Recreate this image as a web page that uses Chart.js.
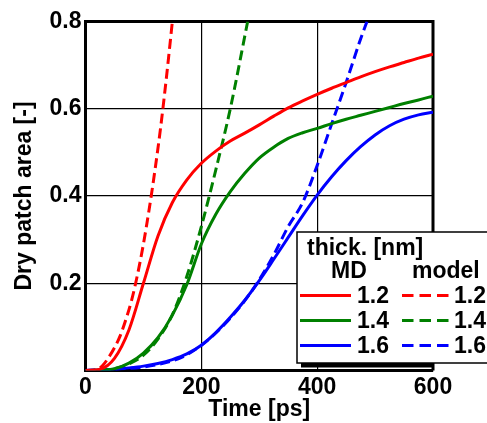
<!DOCTYPE html>
<html>
<head>
<meta charset="utf-8">
<script src="https://cdn.jsdelivr.net/npm/chart.js@4.4.1/dist/chart.umd.min.js"></script>
<style>
  html, body { margin: 0; padding: 0; background: #fff; }
  #wrap { width: 487px; height: 423px; }
</style>
</head>
<body>
<div id="wrap"><canvas id="main" width="487" height="423"></canvas></div>
<script>
// MD runs (solid), sampled every 25 ps
const mdTime = [0, 25, 50, 75, 100, 125, 150, 175, 200, 225, 250, 275, 300, 325, 350, 375, 400, 425, 450, 475, 500, 525, 550, 575, 600];
const mdArea12 = [0, 0.003, 0.028, 0.093, 0.2, 0.308, 0.385, 0.437, 0.475, 0.503, 0.526, 0.544, 0.563, 0.583, 0.602, 0.618, 0.633, 0.647, 0.66, 0.673, 0.685, 0.696, 0.706, 0.716, 0.725];
const mdArea14 = [0, 0.001, 0.004, 0.017, 0.04, 0.075, 0.127, 0.197, 0.29, 0.358, 0.41, 0.452, 0.487, 0.512, 0.532, 0.545, 0.555, 0.566, 0.576, 0.585, 0.594, 0.603, 0.612, 0.62, 0.629];
const mdArea16 = [0, 0.001, 0.003, 0.006, 0.01, 0.016, 0.025, 0.038, 0.058, 0.087, 0.122, 0.161, 0.206, 0.255, 0.305, 0.355, 0.402, 0.444, 0.481, 0.513, 0.54, 0.561, 0.576, 0.586, 0.592];

// model predictions (dashed), each stops where it leaves the axes
const modelTime12 = [0, 20, 30, 40, 50, 60, 70, 80, 90, 100, 110, 120, 130, 140, 150];
const modelArea12 = [0, 0.002, 0.012, 0.03, 0.052, 0.08, 0.118, 0.163, 0.221, 0.29, 0.37, 0.46, 0.56, 0.675, 0.8];
const modelTime14 = [0, 25, 50, 75, 100, 125, 150, 175, 200, 225, 250, 280];
const modelArea14 = [0, 0.001, 0.004, 0.015, 0.035, 0.072, 0.128, 0.216, 0.33, 0.46, 0.6, 0.8];
const modelTime16 = [0, 50, 100, 150, 175, 200, 225, 250, 275, 300, 325, 350, 375, 400, 425, 450, 475, 486];
const modelArea16 = [0, 0.003, 0.008, 0.022, 0.036, 0.058, 0.086, 0.12, 0.16, 0.208, 0.265, 0.33, 0.385, 0.47, 0.565, 0.66, 0.76, 0.8];

const thickLabels = ["1.2", "1.4", "1.6"];
const colors = ["#ff0000", "#008000", "#0000ff"];
const xTicks = [0, 200, 400, 600];
const yTicks = [0, 0.2, 0.4, 0.6, 0.8];

const FONT = "'Liberation Sans', Arial, Helvetica, sans-serif";
const DASH = [10, 5];

const toPoints = (xs, ys) => xs.map((x, i) => ({ x: x, y: ys[i] }));

const mdSeries = [[mdTime, mdArea12], [mdTime, mdArea14], [mdTime, mdArea16]];
const modelSeries = [[modelTime12, modelArea12], [modelTime14, modelArea14], [modelTime16, modelArea16]];

const lineSet = (label, pts, color, dashed) => ({
  label: label,
  data: pts,
  borderColor: color,
  backgroundColor: color,
  borderWidth: 3,
  borderDash: dashed ? DASH : [],
  pointRadius: 0,
  fill: false,
  cubicInterpolationMode: "monotone",
  borderCapStyle: "butt"
});

const datasets = [];
mdSeries.forEach((s, i) => datasets.push(lineSet("MD " + thickLabels[i], toPoints(s[0], s[1]), colors[i], false)));
modelSeries.forEach((s, i) => datasets.push(lineSet("model " + thickLabels[i], toPoints(s[0], s[1]), colors[i], true)));

// top and right edges of the axes box
const boxFrame = {
  id: "boxFrame",
  beforeDatasetsDraw(chart) {
    const { ctx, chartArea: a } = chart;
    ctx.save();
    ctx.strokeStyle = "#000";
    ctx.lineWidth = 3;
    ctx.beginPath();
    ctx.moveTo(a.left, a.top);
    ctx.lineTo(a.right, a.top);
    ctx.lineTo(a.right, a.bottom);
    ctx.stroke();
    ctx.restore();
  }
};

// two-column legend: MD | model
const tableLegend = {
  id: "tableLegend",
  afterDraw(chart) {
    const ctx = chart.ctx;
    const left = 297, top = 232, bottom = 363;
    ctx.save();
    ctx.fillStyle = "#000";
    ctx.fillRect(301, bottom, 132, 4.5);
    ctx.fillStyle = "#fff";
    ctx.fillRect(left, top, 200, bottom - top);
    ctx.strokeStyle = "#000";
    ctx.lineWidth = 1.5;
    ctx.strokeRect(left, top, 200, bottom - top);

    ctx.fillStyle = "#000";
    ctx.textBaseline = "alphabetic";
    ctx.font = "bold 23px " + FONT;
    ctx.textAlign = "left";
    ctx.fillText("thick. [nm]", 307, 255);
    ctx.textAlign = "center";
    ctx.fillText("MD", 349, 278);
    ctx.textAlign = "left";
    ctx.fillText("model", 412, 278);

    thickLabels.forEach((lab, i) => {
      const y = 295.5 + i * 25;
      ctx.lineWidth = 3;
      ctx.strokeStyle = colors[i];
      ctx.setLineDash([]);
      ctx.beginPath();
      ctx.moveTo(300, y);
      ctx.lineTo(351, y);
      ctx.stroke();
      ctx.setLineDash([11.5, 6]);
      ctx.beginPath();
      ctx.moveTo(402, y);
      ctx.lineTo(448.5, y);
      ctx.stroke();
      ctx.setLineDash([]);
      ctx.fillStyle = "#000";
      ctx.textBaseline = "middle";
      ctx.fillText(lab, 357, y + 1);
      ctx.fillText(lab, 454, y + 1);
    });
    ctx.restore();
  }
};

new Chart(document.getElementById("main"), {
  type: "line",
  data: { datasets: datasets },
  options: {
    responsive: false,
    animation: false,
    devicePixelRatio: 1,
    layout: { padding: { top: 21.5, right: 54, left: 0, bottom: 0 } },
    plugins: { legend: { display: false }, tooltip: { enabled: false } },
    scales: {
      x: {
        type: "linear",
        min: 0,
        max: 600,
        afterBuildTicks: s => { s.ticks = xTicks.map(v => ({ value: v })); },
        afterFit: s => { s.height = 52.5; },
        ticks: {
          color: "#000",
          font: { family: FONT, size: 23, weight: "bold" },
          padding: 3,
          maxRotation: 0
        },
        grid: { color: "#000", lineWidth: 1.2, drawTicks: false },
        border: { display: true, color: "#000", width: 3 },
        title: {
          display: true,
          text: "Time [ps]",
          color: "#000",
          font: { family: FONT, size: 23, weight: "bold" },
          padding: 0
        }
      },
      y: {
        type: "linear",
        min: 0,
        max: 0.8,
        afterBuildTicks: s => { s.ticks = yTicks.map(v => ({ value: v })); },
        afterFit: s => { s.width = 85.5; },
        ticks: {
          color: "#000",
          font: { family: FONT, size: 23, weight: "bold" },
          padding: 4,
          callback: v => (v === 0 ? "" : v.toFixed(1))
        },
        grid: { color: "#000", lineWidth: 1.2, drawTicks: false },
        border: { display: true, color: "#000", width: 3 },
        title: {
          display: true,
          text: "Dry patch area [-]",
          color: "#000",
          font: { family: FONT, size: 23, weight: "bold" },
          padding: { top: 11, bottom: 0 }
        }
      }
    }
  },
  plugins: [boxFrame, tableLegend]
});
</script>
</body>
</html>
